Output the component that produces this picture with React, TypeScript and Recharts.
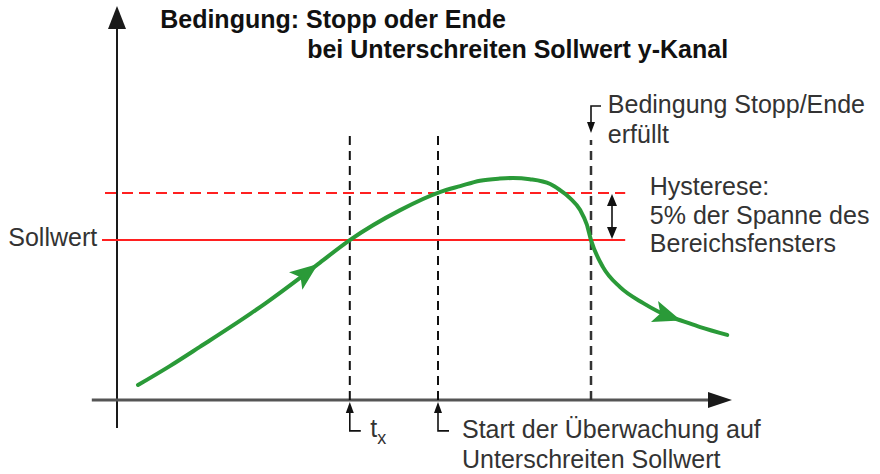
import React from 'react';
import { ComposedChart, Line, XAxis, YAxis, ReferenceLine, ReferenceDot } from 'recharts';

// Green process curve (t in % of the time span, v in % of the value window)
const curveT = [3.5, 8.8, 13.8, 22.2, 24.8, 30.5, 33.5, 38.8, 47.2, 53.8, 57.2, 60.5, 63.8, 66, 68.8, 72.2, 73.8, 75.5, 77.2, 78.3, 79, 81, 83.8, 87.7, 92.2, 94, 97.2, 101.7];
const curveV = [5, 11.3, 17.7, 28.7, 32.3, 40.7, 45.3, 53.3, 63.3, 69.3, 71.3, 73.1, 73.8, 74, 73.6, 72, 70, 67.3, 63.3, 58.5, 53.3, 44.3, 37.7, 32.3, 27.7, 26.5, 24.3, 21.7];
const arrowAt = [33.5, 94];

const SOLLWERT = 53.3;
const HYST_TOP = 69;
const T_X = 38.8;
const T_START = 53.5;
const T_STOP = 79;

const titleLines = ['Bedingung: Stopp oder Ende', 'bei Unterschreiten Sollwert y-Kanal'];
const stopLines = ['Bedingung Stopp/Ende', 'erfüllt'];
const hystLines = ['Hysterese:', '5% der Spanne des', 'Bereichsfensters'];
const startLines = ['Start der Überwachung auf', 'Unterschreiten Sollwert'];

const data = curveT.map((t, i) => ({ t, v: curveV[i] }));

const FONT = '"Liberation Sans", Arial, sans-serif';
const GREEN = '#2a9a38';
const RED = '#ff2020';
const INK = '#333';

const CurveArrow = (props: any) => {
  const { cx, cy, index, points, payload } = props;
  if (!arrowAt.includes(payload?.t) || !points) return <g key={`d${index}`} />;
  const a = points[Math.max(0, index - 1)];
  const b = points[Math.min(points.length - 1, index + 1)];
  const ang = Math.atan2(b.y - a.y, b.x - a.x);
  const L = 28, W = 11;
  const cos = Math.cos(ang), sin = Math.sin(ang);
  const pt = (dx: number, dy: number) => `${cx + dx * cos - dy * sin},${cy + dx * sin + dy * cos}`;
  return (
    <polygon key={`d${index}`} points={`${pt(0, 0)} ${pt(-L, W)} ${pt(-L * 0.78, 0)} ${pt(-L, -W)}`} fill={GREEN} />
  );
};

const head = (x: number, y: number, dir: 'up' | 'down' | 'right', len: number, hw: number, color: string) => {
  if (dir === 'up') return <polygon points={`${x},${y} ${x - hw},${y + len} ${x + hw},${y + len}`} fill={color} />;
  if (dir === 'down') return <polygon points={`${x},${y} ${x - hw},${y - len} ${x + hw},${y - len}`} fill={color} />;
  return <polygon points={`${x},${y} ${x - len},${y - hw} ${x - len},${y + hw}`} fill={color} />;
};

const YAxisArrow = (p: any) => (
  <g>
    <line x1={p.x1} y1={p.y1} x2={p.x2} y2={p.y2 + 10} stroke="#1a1a1a" strokeWidth={2} />
    {head(p.x2, p.y2, 'up', 23, 9, '#1a1a1a')}
  </g>
);

const XAxisArrow = (p: any) => (
  <g>
    <line x1={p.x1} y1={p.y1} x2={p.x2 - 10} y2={p.y2} stroke="#555" strokeWidth={3} />
    {head(p.x2, p.y2, 'right', 24, 8, '#1a1a1a')}
  </g>
);

// L-shaped pointer from below pointing up at the time axis
const FootUp = (p: any) => (
  <g>
    <polyline points={`${p.x1 + 11},${p.y1} ${p.x1},${p.y1} ${p.x2},${p.y2 + 8}`} fill="none" stroke="#111" strokeWidth={1.6} />
    {head(p.x2, p.y2, 'up', 11, 4, '#111')}
  </g>
);

const FootDown = (p: any) => (
  <g>
    <polyline points={`${p.x1 + 10},${p.y1} ${p.x1},${p.y1} ${p.x2},${p.y2 - 8}`} fill="none" stroke="#111" strokeWidth={1.6} />
    {head(p.x2, p.y2, 'down', 11, 4, '#111')}
  </g>
);

// vertical double arrow: p.y1 is the upper end, p.y2 the lower end
const DoubleArrow = (p: any) => (
  <g>
    <line x1={p.x1} y1={p.y1 + 8} x2={p.x2} y2={p.y2 - 8} stroke="#111" strokeWidth={1.6} />
    {head(p.x1, p.y1 + 1, 'up', 12, 5, '#111')}
    {head(p.x2, p.y2 - 1, 'down', 12, 5, '#111')}
  </g>
);

const textBlock = (lines: string[], opts: { anchor?: 'start' | 'end'; bold?: boolean; lh?: number; color?: string }) => (p: any) => (
  <text
    x={p.cx}
    y={p.cy}
    textAnchor={opts.anchor ?? 'start'}
    fontFamily={FONT}
    fontSize={25}
    fontWeight={opts.bold ? 'bold' : 'normal'}
    fill={opts.color ?? INK}
  >
    {lines.map((s, i) => (
      <tspan key={i} x={p.cx} dy={i === 0 ? 0 : opts.lh ?? 29}>{s}</tspan>
    ))}
  </text>
);

const TxLabel = (p: any) => (
  <text x={p.cx} y={p.cy} fontFamily={FONT} fontSize={25} fill={INK}>
    t<tspan dy={7} fontSize={18}>x</tspan>
  </text>
);

export default function App() {
  return (
    <div style={{ position: 'absolute', left: 0, top: 0, width: 880, height: 474, background: '#fff' }}>
      <ComposedChart width={880} height={474} data={data} margin={{ top: 100, right: 133, bottom: 74, left: 117 }}>
        <XAxis type="number" dataKey="t" domain={[0, 105]} allowDataOverflow hide />
        <YAxis type="number" domain={[0, 100]} allowDataOverflow hide />

        <ReferenceLine segment={[{ x: 0, y: -9.3 }, { x: 0, y: 131.3 }]} ifOverflow="visible" shape={YAxisArrow} />
        <ReferenceLine segment={[{ x: -4.2, y: 0 }, { x: 102.5, y: 0 }]} ifOverflow="visible" shape={XAxisArrow} />

        <ReferenceLine segment={[{ x: -2.5, y: SOLLWERT }, { x: 84.7, y: SOLLWERT }]} ifOverflow="visible" stroke={RED} strokeWidth={2} />
        <ReferenceLine segment={[{ x: -2, y: HYST_TOP }, { x: 84.7, y: HYST_TOP }]} ifOverflow="visible" stroke={RED} strokeWidth={2} strokeDasharray="11 6" />

        <ReferenceLine segment={[{ x: T_X, y: 0 }, { x: T_X, y: 88.3 }]} ifOverflow="visible" stroke="#111" strokeWidth={2} strokeDasharray="9 6" />
        <ReferenceLine segment={[{ x: T_START, y: 0 }, { x: T_START, y: 88.3 }]} ifOverflow="visible" stroke="#111" strokeWidth={2} strokeDasharray="9 6" />
        <ReferenceLine segment={[{ x: T_STOP, y: 0 }, { x: T_STOP, y: 86.7 }]} ifOverflow="visible" stroke="#333" strokeWidth={2.5} strokeDasharray="9 6" />

        <ReferenceLine segment={[{ x: T_X, y: -10.3 }, { x: T_X, y: -0.7 }]} ifOverflow="visible" shape={FootUp} />
        <ReferenceLine segment={[{ x: T_START, y: -10.3 }, { x: T_START, y: -0.7 }]} ifOverflow="visible" shape={FootUp} />
        <ReferenceLine segment={[{ x: T_STOP, y: 98 }, { x: T_STOP, y: 89 }]} ifOverflow="visible" shape={FootDown} />
        <ReferenceLine segment={[{ x: 82.5, y: HYST_TOP }, { x: 82.5, y: SOLLWERT }]} ifOverflow="visible" shape={DoubleArrow} />

        <Line
          type="monotone"
          dataKey="v"
          stroke={GREEN}
          strokeWidth={4}
          strokeLinecap="round"
          dot={CurveArrow}
          activeDot={false}
          isAnimationActive={false}
        />

        <ReferenceDot x={7.2} y={124} ifOverflow="visible" shape={textBlock([titleLines[0]], { bold: true, color: '#111' })} />
        <ReferenceDot x={31.7} y={114} ifOverflow="visible" shape={textBlock([titleLines[1]], { bold: true, color: '#111' })} />
        <ReferenceDot x={-3.3} y={51.3} ifOverflow="visible" shape={textBlock(['Sollwert'], { anchor: 'end' })} />
        <ReferenceDot x={81.8} y={95.7} ifOverflow="visible" shape={textBlock(stopLines, { lh: 30 })} />
        <ReferenceDot x={88.8} y={68.3} ifOverflow="visible" shape={textBlock(hystLines, { lh: 28.5 })} />
        <ReferenceDot x={57.5} y={-12.7} ifOverflow="visible" shape={textBlock(startLines, { lh: 30 })} />
        <ReferenceDot x={42.2} y={-12.3} ifOverflow="visible" shape={TxLabel} />
      </ComposedChart>
    </div>
  );
}
